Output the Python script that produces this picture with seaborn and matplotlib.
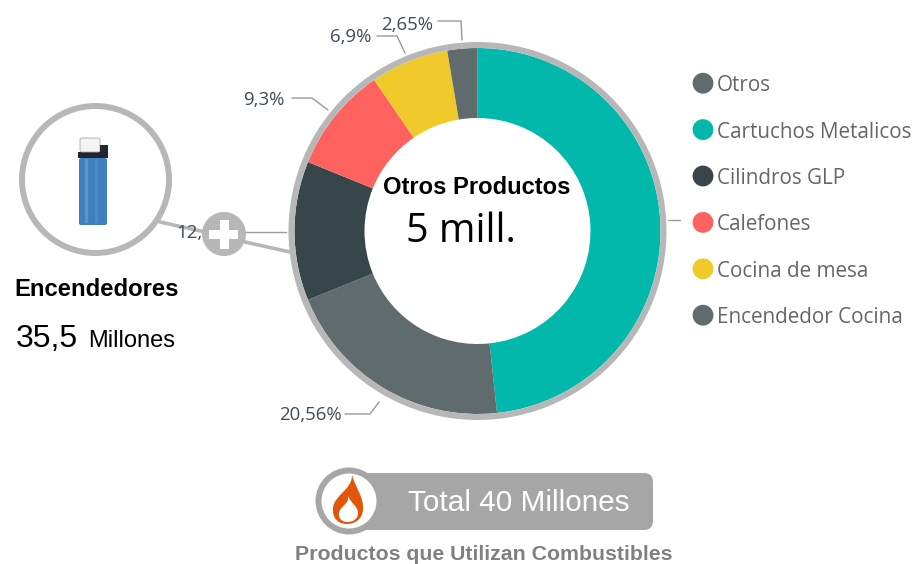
import matplotlib
matplotlib.use("Agg")
import matplotlib.pyplot as plt
import seaborn as sns
from matplotlib.patches import Circle, FancyBboxPatch, PathPatch, Rectangle
from matplotlib.path import Path

# slice sizes clockwise from 12 o'clock
slices = ["Cartuchos Metalicos", "Encendedor Cocina", "Cilindros GLP", "Calefones", "Cocina de mesa", "Otros"]
values = [48.3, 20.56, 12.29, 9.3, 6.9, 2.65]

legend_names = ["Otros", "Cartuchos Metalicos", "Cilindros GLP", "Calefones", "Cocina de mesa", "Encendedor Cocina"]
colors = {
    "Otros": "#5F6B6D",
    "Cartuchos Metalicos": "#01B8AA",
    "Cilindros GLP": "#374649",
    "Calefones": "#FD625E",
    "Cocina de mesa": "#F0CA2A",
    "Encendedor Cocina": "#5F6B6D",
}

W, H = 917, 564
RING = "#b7b7b7"
PILL = "#a6a6a6"

sns.set_theme(style="white")
plt.rcParams["font.family"] = ["Liberation Sans", "DejaVu Sans"]

fig = plt.figure(figsize=(W / 100, H / 100), dpi=100, facecolor="white")

# whole figure canvas in pixels, y going down
ax = fig.add_axes([0, 0, 1, 1])
ax.set_xlim(0, W)
ax.set_ylim(H, 0)
ax.axis("off")


def box(x0, y0, x1, y1):
    return [x0 / W, 1 - y1 / H, (x1 - x0) / W, (y1 - y0) / H]


# donut
cx, cy, r = 477.5, 231, 183
ax_pie = fig.add_axes(box(cx - r - 8, cy - r - 8, cx + r + 8, cy + r + 8))
ax_pie.patch.set_alpha(0)
ax_pie.pie(values, colors=[colors[s] for s in slices], startangle=90, counterclock=False,
           radius=1, wedgeprops=dict(width=70 / 183, linewidth=0))
ax_pie.set_xlim(-(r + 8) / r, (r + 8) / r)
ax_pie.set_ylim(-(r + 8) / r, (r + 8) / r)
ax_pie.add_patch(Circle((0, 0), 186 / r, fill=False, ec=RING, lw=6 * 0.72))

# leader lines and percent labels
LEAD = "#9a9a9a"
leaders = [
    ([438, 461, 462], [21, 21, 40]),
    ([377, 397, 405], [36, 36, 53]),
    ([292, 312, 328], [98, 98, 110]),
    ([345, 370, 379], [414, 414, 402]),
    ([668, 680], [220, 220]),
]
for xs, ys in leaders:
    ax.plot(xs, ys, color=LEAD, lw=1)

LABEL = dict(family=["Open Sans", "DejaVu Sans"], fontsize=13.4, color="#3f4a57", va="center")
ax.text(433, 25, "2,65%", ha="right", **LABEL)
ax.text(371, 37, "6,9%", ha="right", **LABEL)
ax.text(285, 100, "9,3%", ha="right", **LABEL)
ax.text(342, 415, "20,56%", ha="right", **LABEL)
ax.text(176, 233, "12,", ha="left", **LABEL)

ax_top = fig.add_axes([0, 0, 1, 1])
ax_top.set_xlim(0, W)
ax_top.set_ylim(H, 0)
ax_top.axis("off")
ax_top.patch.set_alpha(0)
ax_top.text(476.5, 188, "Otros Productos", fontsize=17.1, fontweight="bold", color="black", ha="center", va="center")
ax_top.text(461, 232, "5 mill.", family=["Open Sans", "DejaVu Sans"], fontsize=28.5, color="black", ha="center", va="center")

# lighter circle, connectors and plus button
ax.plot([160, 205], [222, 232], color=RING, lw=2.6)
ax.plot([245, 290], [242, 252], color=RING, lw=2.6)
ax.plot([245, 286], [231.5, 231.5], color=LEAD, lw=1)
ax.add_patch(Circle((95.5, 179.5), 73.5, fc="white", ec=RING, lw=6 * 0.72))
ax.add_patch(Circle((224, 234), 22, fc=RING, ec="none", zorder=5))
ax.add_patch(Rectangle((209, 230), 29, 9, fc="white", ec="none", zorder=6))
ax.add_patch(Rectangle((219.5, 219.5), 9, 29, fc="white", ec="none", zorder=6))

# the lighter itself
ax.add_patch(FancyBboxPatch((79, 158), 28, 67, boxstyle="round,pad=0,rounding_size=2", fc="#3f7fbd", ec="none"))
ax.add_patch(Rectangle((85, 159), 2.5, 64, fc="#5c93c8", ec="none"))
ax.add_patch(Rectangle((95, 159), 2.5, 64, fc="#5089c2", ec="none"))
ax.add_patch(Rectangle((78, 152), 30, 6, fc="#1d2630", ec="none"))
ax.add_patch(FancyBboxPatch((80, 138), 20, 14, boxstyle="round,pad=0,rounding_size=2", fc="#f4f4f4", ec="#a8a8a8", lw=0.6))
ax.add_patch(Rectangle((100, 145), 8, 7, fc="#26282b", ec="none"))

ax.text(14, 290, "Encendedores", fontsize=17.2, fontweight="bold", color="black", va="center")
ax.text(16, 339, "35,5", fontsize=23, color="black", va="center")
ax.text(88, 341, "Millones", fontsize=17, color="black", va="center")

# legend: dots from seaborn, names as tick labels on the right
ax_leg = fig.add_axes(box(691, 60, 715, 338.4))
ax_leg.patch.set_alpha(0)
sns.scatterplot(x=[0] * len(legend_names), y=legend_names, hue=legend_names, palette=colors,
                s=225, linewidth=0, legend=False, ax=ax_leg, clip_on=False)
ax_leg.set_xlim(-1, 1)
ax_leg.set_ylim(5.5, -0.5)
ax_leg.set_xticks([])
ax_leg.yaxis.tick_right()
ax_leg.tick_params(axis="y", length=0, pad=1.5, labelsize=14.9, labelcolor="#666666")
for t in ax_leg.get_yticklabels():
    t.set_fontfamily(["Open Sans", "DejaVu Sans"])
sns.despine(ax=ax_leg, left=True, bottom=True, right=True, top=True)

# total pill with flame
ax.add_patch(FancyBboxPatch((340, 473), 313, 57, boxstyle="round,pad=0,rounding_size=9", fc=PILL, ec="none"))
ax.add_patch(Circle((349, 501), 30.5, fc="white", ec=PILL, lw=6 * 0.72, zorder=3))
flame_outer = Path(
    [(352, 475), (356, 489), (364, 497), (363, 510), (362, 520), (354, 524), (347, 524),
     (338, 524), (332, 518), (333, 508), (334, 495), (352, 490), (352, 475)],
    [Path.MOVETO] + [Path.CURVE4] * 12,
)
flame_inner = Path(
    [(348, 495), (350, 503), (358, 506), (358, 513), (358, 519), (353, 522), (347, 522),
     (342, 522), (338, 518), (339, 513), (340, 506), (350, 504), (348, 495)],
    [Path.MOVETO] + [Path.CURVE4] * 12,
)
ax.add_patch(PathPatch(flame_outer, fc="#e2560c", ec="none", zorder=4))
ax.add_patch(PathPatch(flame_inner, fc="white", ec="none", zorder=5))
ax.text(518.5, 503, "Total 40 Millones", fontsize=21.4, color="white", ha="center", va="center", zorder=4)
ax.text(483.5, 555, "Productos que Utilizan Combustibles", fontsize=15.3, fontweight="bold",
        color="#808080", ha="center", va="center")

fig.savefig("out.png", dpi=100, facecolor="white")
